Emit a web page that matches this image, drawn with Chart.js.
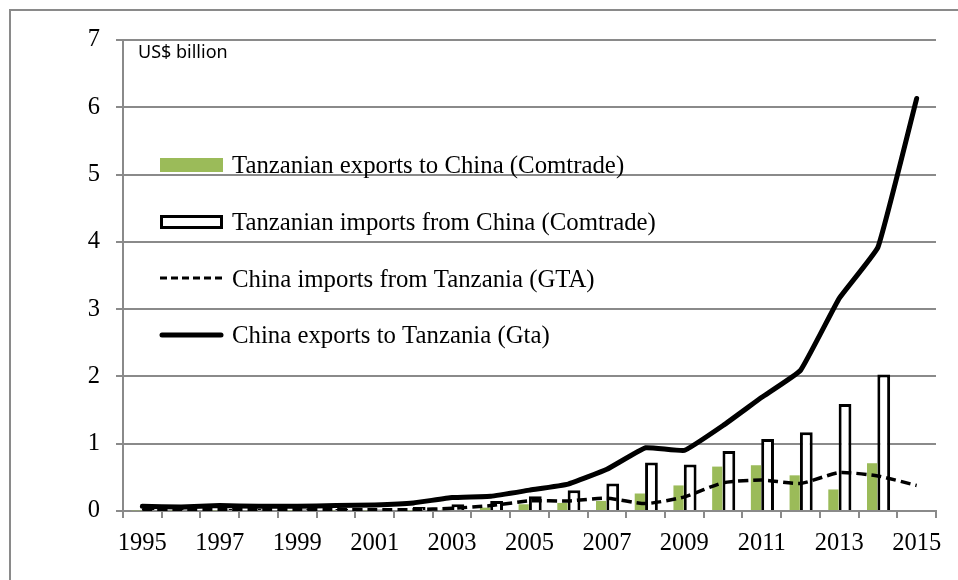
<!DOCTYPE html>
<html>
<head>
<meta charset="utf-8">
<script src="https://cdn.jsdelivr.net/npm/chart.js@4.4.1/dist/chart.umd.min.js"></script>
<style>
  html, body { margin: 0; padding: 0; background: #fff; }
  #wrap { width: 958px; height: 580px; }
</style>
</head>
<body>
<div id="wrap"><canvas id="tradeChart" width="958" height="580"></canvas></div>
<script>
// years on the x axis
const years = ['1995','1996','1997','1998','1999','2000','2001','2002','2003','2004',
               '2005','2006','2007','2008','2009','2010','2011','2012','2013','2014','2015'];

// Tanzanian exports to China (Comtrade) - green bars
const tzExports = [0.01,0.01,0.01,0.01,0.01,0.01,0.01,0.01,0.02,0.05,
                   0.10,0.12,0.15,0.26,0.38,0.66,0.68,0.53,0.32,0.71,null];

// Tanzanian imports from China (Comtrade) - white bars
const tzImports = [0.03,0.03,0.03,0.03,0.03,0.03,0.03,0.06,0.10,0.15,
                   0.22,0.31,0.41,0.72,0.69,0.89,1.07,1.17,1.59,2.03,null];

// China imports from Tanzania (GTA) - dashed line
const cnImports = [0.02,0.02,0.02,0.02,0.02,0.02,0.02,0.02,0.04,0.08,
                   0.15,0.15,0.19,0.11,0.21,0.42,0.46,0.41,0.57,0.52,0.38];

// China exports to Tanzania (Gta) - solid line
const cnExports = [0.07,0.06,0.08,0.07,0.07,0.08,0.09,0.12,0.20,0.22,
                   0.31,0.40,0.62,0.94,0.90,1.27,1.69,2.09,3.16,3.92,6.13];

const yTicks = [0,1,2,3,4,5,6,7];

const legendLabels = [
    'Tanzanian exports to China (Comtrade)',
    'Tanzanian imports from China (Comtrade)',
    'China imports from Tanzania (GTA)',
    'China exports to Tanzania (Gta)'
];

const serif = '"Liberation Serif", "Times New Roman", serif';
const gridGray = '#8a8a8a';
const green = '#9bbb59';

// frame, unit label and the legend inside the plot
const decorPlugin = {
    id: 'decor',
    beforeDraw(chart) {
        const ctx = chart.ctx;
        ctx.save();
        ctx.strokeStyle = gridGray;
        ctx.lineWidth = 2;
        ctx.beginPath();
        ctx.moveTo(10, chart.height);
        ctx.lineTo(10, 10);
        ctx.lineTo(chart.width, 10);
        ctx.stroke();
        ctx.restore();
    },
    afterDraw(chart) {
        const ctx = chart.ctx;
        ctx.save();
        ctx.fillStyle = '#000';
        ctx.font = '18px "Noto Sans", sans-serif';
        ctx.textBaseline = 'alphabetic';
        ctx.fillText('US$ billion', 138, 58);

        const x0 = 160, x1 = 223;
        const baselines = [173, 230, 287, 343];
        const mids = [165, 222, 278, 335];

        // green box
        ctx.fillStyle = green;
        ctx.fillRect(x0, mids[0] - 7, x1 - x0, 14);
        // white box
        ctx.fillStyle = '#fff';
        ctx.strokeStyle = '#000';
        ctx.lineWidth = 3;
        ctx.fillRect(x0 + 1.5, mids[1] - 5.5, x1 - x0 - 3, 11);
        ctx.strokeRect(x0 + 1.5, mids[1] - 5.5, x1 - x0 - 3, 11);
        // dashed
        ctx.setLineDash([7, 4]);
        ctx.lineWidth = 3;
        ctx.beginPath();
        ctx.moveTo(x0, mids[2]);
        ctx.lineTo(x1, mids[2]);
        ctx.stroke();
        // solid
        ctx.setLineDash([]);
        ctx.lineWidth = 5;
        ctx.lineCap = 'round';
        ctx.beginPath();
        ctx.moveTo(x0 + 2, mids[3]);
        ctx.lineTo(x1 - 2, mids[3]);
        ctx.stroke();

        ctx.fillStyle = '#000';
        ctx.font = '24.8px ' + serif;
        legendLabels.forEach((txt, i) => {
            ctx.fillText(txt, 232, baselines[i]);
        });
        ctx.restore();
    }
};

const ctx = document.getElementById('tradeChart').getContext('2d');
new Chart(ctx, {
    type: 'bar',
    data: {
        labels: years,
        datasets: [
            {
                type: 'line',
                label: legendLabels[3],
                data: cnExports,
                borderColor: '#000',
                borderWidth: 5,
                pointRadius: 0,
                tension: 0.1,
                borderCapStyle: 'round',
                borderJoinStyle: 'round',
                fill: false,
                order: 0
            },
            {
                type: 'line',
                label: legendLabels[2],
                data: cnImports,
                borderColor: '#000',
                borderWidth: 3.5,
                borderDash: [10, 5],
                pointRadius: 0,
                tension: 0.2,
                fill: false,
                order: 1
            },
            {
                label: legendLabels[0],
                data: tzExports,
                backgroundColor: green,
                borderWidth: 0,
                barPercentage: 0.88,
                categoryPercentage: 0.6,
                order: 2
            },
            {
                label: legendLabels[1],
                data: tzImports,
                backgroundColor: '#fff',
                borderColor: '#000',
                borderWidth: 3,
                barPercentage: 1.1,
                categoryPercentage: 0.6,
                order: 3
            }
        ]
    },
    options: {
        responsive: false,
        animation: false,
        devicePixelRatio: 1,
        layout: {
            padding: { left: 88, top: 40, right: 22, bottom: 0 }
        },
        plugins: {
            legend: { display: false },
            tooltip: { enabled: false }
        },
        scales: {
            x: {
                offset: true,
                afterFit: function(scale) { scale.height = 69; },
                grid: {
                    drawOnChartArea: false,
                    drawTicks: true,
                    tickLength: 7,
                    color: gridGray,
                    lineWidth: 2
                },
                border: { color: gridGray, width: 2 },
                ticks: {
                    autoSkip: false,
                    maxRotation: 0,
                    padding: 11,
                    color: '#000',
                    font: { family: serif, size: 24.5 },
                    callback: function(val, i) {
                        return i % 2 === 0 ? years[i] : '';
                    }
                }
            },
            y: {
                min: 0,
                max: 7,
                afterFit: function(scale) { scale.width = 35; },
                afterBuildTicks: function(scale) {
                    scale.ticks = yTicks.map(v => ({ value: v }));
                },
                grid: {
                    color: gridGray,
                    lineWidth: 2,
                    tickLength: 7
                },
                border: { color: gridGray, width: 2 },
                ticks: {
                    padding: 16,
                    color: '#000',
                    font: { family: serif, size: 24.5 }
                }
            }
        }
    },
    plugins: [decorPlugin]
});
</script>
</body>
</html>
